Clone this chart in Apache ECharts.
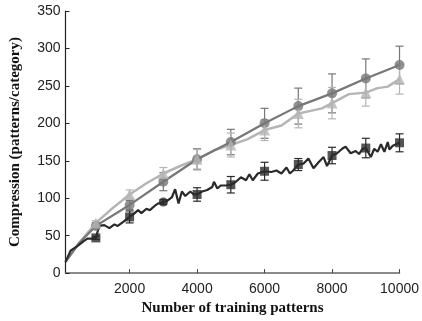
<!DOCTYPE html>
<html>
<head>
<meta charset="utf-8">
<script src="https://cdn.jsdelivr.net/npm/echarts@6/dist/echarts.min.js"></script>
<style>
  html, body { margin: 0; padding: 0; background: #fff; }
  #chart { width: 422px; height: 321px; }
</style>
</head>
<body>
<div id="chart"></div>
<script>
// marker positions (every 1000 patterns)
const markX = [1000, 2000, 3000, 4000, 5000, 6000, 7000, 8000, 9000, 10000]
const circleY = [63, 91, 122, 152, 175, 200, 223, 240, 260, 278]
const circleErr = [4, 6, 12, 14, 17, 20, 24, 26, 26, 25]
const triY = [67, 105, 133, 152, 171, 191, 213, 227, 241, 259]
const triErr = [3, 6, 8, 13, 16, 14, 19, 21, 18, 20]
const squareY = [47, 75, 95, 105, 118, 136, 145, 157, 167, 174]
const squareErr = [2, 8, 3, 9, 11, 12, 8, 11, 13, 12]

// dark gray line
const darkX = [100, 500, 1000, 2000, 3000, 4000, 5000, 6000, 7000, 8000, 9000, 10000]
const darkY = [15, 40, 63, 91, 122, 152, 175, 200, 223, 240, 260, 278]

// light gray line
const lightX = [100, 500, 1000, 1500, 2000, 2500, 3000, 3500, 4000, 4500, 5000, 5500, 6000, 6500, 7000, 7300, 7700, 8000, 8500, 9000, 9350, 9650, 10000]
const lightY = [15, 40, 67, 87, 105, 120, 133, 143, 152, 164, 171, 179, 191, 197, 213, 216, 220, 227, 239, 241, 247, 249, 259]

// black jagged line
const blackX = [100, 250, 450, 650, 750, 900, 1000, 1100, 1250, 1400, 1550, 1650, 1800, 2000,
  2100, 2250, 2350, 2500, 2600, 2750, 2850, 3000, 3100, 3250, 3350, 3450, 3550, 3650, 3800, 3900, 4000,
  4150, 4300, 4450, 4500, 4600, 4700, 4850, 5000, 5150, 5300, 5450, 5550, 5650, 5800, 6000,
  6200, 6350, 6500, 6650, 6750, 6850, 7000, 7150, 7300, 7450, 7600, 7750, 7850, 8000,
  8150, 8300, 8400, 8550, 8700, 8800, 8900, 9000, 9150, 9250, 9350, 9450, 9550, 9650, 9700, 9800, 10000]
const blackY = [15, 30, 36, 43, 46, 46, 47, 63, 64, 60, 65, 63, 68, 75,
  78, 84, 80, 86, 84, 90, 93, 95, 96, 101, 112, 93, 109, 103, 109, 105, 105,
  109, 111, 115, 122, 113, 117, 117, 118, 122, 128, 124, 132, 124, 133, 136,
  135, 137, 133, 141, 133, 137, 145, 146, 153, 140, 148, 155, 143, 157,
  160, 166, 169, 160, 163, 159, 166, 167, 155, 166, 162, 172, 162, 175, 165, 170, 174]

const xTicks = [2000, 4000, 6000, 8000, 10000]

const DARK = '#777777'
const LIGHT = '#b5b5b5'
const BLACK = '#2a2a2a'

function pairs(xs, ys) {
  return xs.map((x, i) => [x, ys[i]])
}

function errData(ys, errs) {
  return markX.map((x, i) => [x, ys[i], errs[i]])
}

function errSeries(ys, errs, color) {
  return {
    type: 'custom',
    data: errData(ys, errs),
    silent: true,
    z: 1,
    renderItem: (params, api) => {
      const x = api.value(0)
      const y = api.value(1)
      const e = api.value(2)
      const top = api.coord([x, y + e])
      const bot = api.coord([x, y - e])
      const w = 4
      const style = { stroke: color, lineWidth: 1.2 }
      return {
        type: 'group',
        children: [
          { type: 'line', shape: { x1: top[0], y1: top[1], x2: bot[0], y2: bot[1] }, style },
          { type: 'line', shape: { x1: top[0] - w, y1: top[1], x2: top[0] + w, y2: top[1] }, style },
          { type: 'line', shape: { x1: bot[0] - w, y1: bot[1], x2: bot[0] + w, y2: bot[1] }, style }
        ]
      }
    }
  }
}

const chart = echarts.init(document.getElementById('chart'), null, { renderer: 'canvas' })

const option = {
  animation: false,
  grid: { left: 58, right: 22, top: 11, bottom: 45 },
  xAxis: {
    type: 'value',
    min: 100,
    max: 10000,
    name: 'Number of training patterns',
    nameLocation: 'middle',
    nameGap: 33,
    nameTextStyle: { fontFamily: 'Liberation Serif', fontWeight: 'bold', fontSize: 15, color: '#111', verticalAlign: 'middle' },
    axisLine: { lineStyle: { color: '#666', width: 1.5 } },
    axisTick: { inside: true, length: 4, customValues: xTicks, lineStyle: { color: '#444' } },
    axisLabel: {
      customValues: xTicks,
      margin: 9,
      fontFamily: 'Liberation Sans',
      fontSize: 14,
      color: '#222',
      formatter: v => String(v)
    },
    splitLine: { show: false }
  },
  yAxis: {
    type: 'value',
    min: 0,
    max: 350,
    interval: 50,
    name: 'Compression (patterns/category)',
    nameLocation: 'middle',
    nameGap: 50,
    nameTextStyle: { fontFamily: 'Liberation Serif', fontWeight: 'bold', fontSize: 15, color: '#111', verticalAlign: 'middle' },
    axisLine: { show: true, lineStyle: { color: '#222', width: 1.2 } },
    axisTick: { show: true, inside: true, length: 4, lineStyle: { color: '#222' } },
    axisLabel: { margin: 5, fontFamily: 'Liberation Sans', fontSize: 14, color: '#222' },
    splitLine: { show: false }
  },
  series: [
    errSeries(circleY, circleErr, DARK),
    errSeries(triY, triErr, LIGHT),
    errSeries(squareY, squareErr, BLACK),
    {
      type: 'line',
      data: pairs(lightX, lightY),
      showSymbol: false,
      lineStyle: { color: LIGHT, width: 2.5 },
      z: 2
    },
    {
      type: 'line',
      data: pairs(darkX, darkY),
      showSymbol: false,
      lineStyle: { color: DARK, width: 2.2 },
      z: 3
    },
    {
      type: 'line',
      data: pairs(blackX, blackY),
      showSymbol: false,
      lineStyle: { color: BLACK, width: 2.2 },
      z: 3
    },
    {
      type: 'scatter',
      data: pairs(markX, circleY),
      symbol: 'circle',
      symbolSize: 10,
      itemStyle: { color: DARK },
      z: 4
    },
    {
      type: 'scatter',
      data: pairs(markX, triY),
      symbol: 'triangle',
      symbolSize: 11,
      itemStyle: { color: LIGHT },
      z: 5
    },
    {
      type: 'scatter',
      data: pairs(markX, squareY),
      symbol: (val, params) => params.dataIndex === 2 ? 'circle' : 'rect',
      symbolSize: 9,
      itemStyle: { color: BLACK },
      z: 5
    }
  ]
}

chart.setOption(option)
</script>
</body>
</html>
